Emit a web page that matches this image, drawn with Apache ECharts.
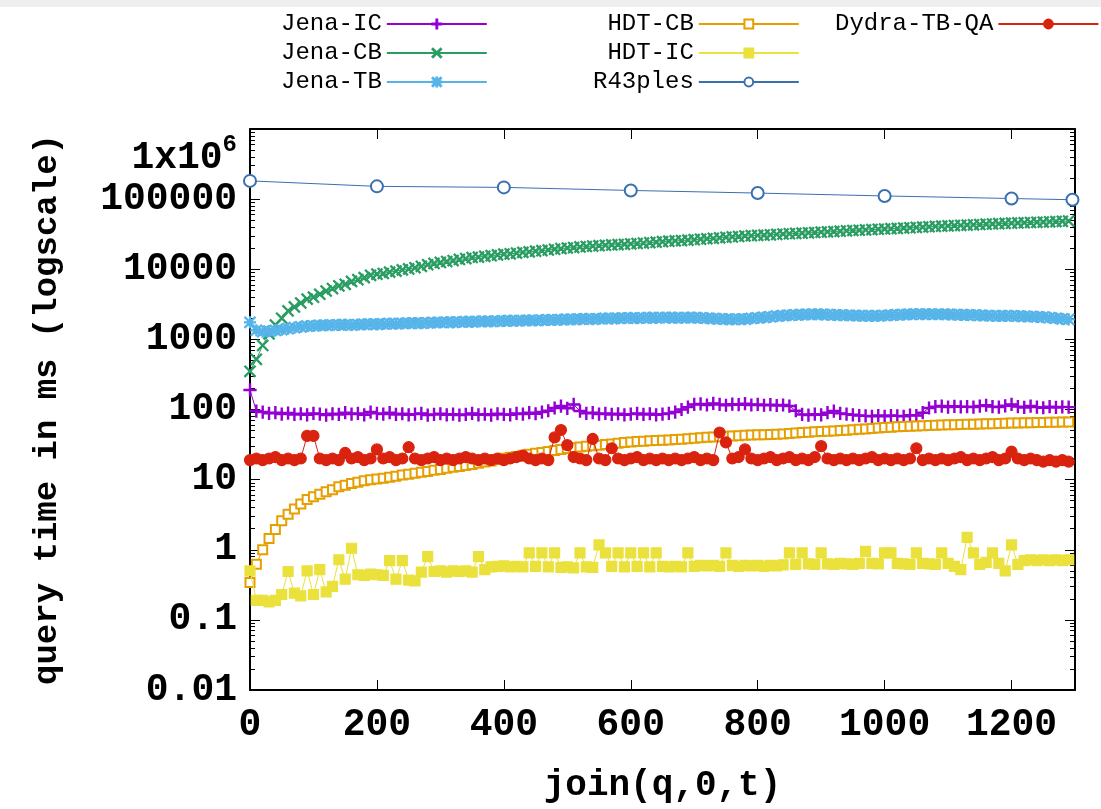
<!DOCTYPE html>
<html>
<head>
<meta charset="utf-8">
<script src="https://cdn.jsdelivr.net/npm/echarts@6/dist/echarts.min.js"></script>
<style>
html,body{margin:0;padding:0;background:#fff;}
#container{width:1101px;height:809px;}
</style>
</head>
<body>
<div id="container"></div>
<script>
// join(q,0,t) sample positions
var joinSteps = [0,10,20,30,40,50,60,70,80,90,100,110,120,130,140,150,160,170,180,190,
    200,210,220,230,240,250,260,270,280,290,300,310,320,330,340,350,360,370,380,390,
    400,410,420,430,440,450,460,470,480,490,500,510,520,530,540,550,560,570,580,590,
    600,610,620,630,640,650,660,670,680,690,700,710,720,730,740,750,760,770,780,790,
    800,810,820,830,840,850,860,870,880,890,900,910,920,930,940,950,960,970,980,990,
    1000,1010,1020,1030,1040,1050,1060,1070,1080,1090,1100,1110,1120,1130,1140,1150,1160,1170,1180,1190,
    1200,1210,1220,1230,1240,1250,1260,1270,1280,1290];

var jenaIC = [190,95,92,88,90,86,89,85,87,84,88,86,83,87,85,90,86,88,84,92,
    88,86,90,85,87,84,86,88,83,85,87,84,86,83,85,88,84,86,83,87,
    85,84,88,86,90,87,92,96,105,112,104,118,95,88,90,86,88,85,87,84,
    86,88,85,87,84,86,88,92,100,108,118,120,116,122,118,115,119,117,121,116,
    118,115,117,114,116,112,96,85,83,86,84,90,95,88,86,84,82,81,80,82,
    80,82,81,80,83,82,90,105,110,112,108,111,109,110,108,112,115,110,108,113,
    118,110,107,112,108,106,110,107,109,108];

var jenaCB = [350,520,820,1200,1600,2000,2550,2900,3300,3750,4000,4400,4900,5300,5800,6100,6700,7100,7600,8200,
    8500,8700,9100,9400,9800,10100,10500,11000,11600,12100,12500,12900,13300,13800,14200,14700,14900,15300,15600,16000,
    16400,16600,17000,17400,17700,18100,18400,18800,19300,19700,20100,20400,20800,21100,21400,21700,22000,22200,22500,22700,
    23000,23300,23600,24000,24300,24700,25100,25400,25600,26000,26400,26800,27200,27600,28000,28500,28900,29300,29800,30100,
    30400,30600,31000,31400,31800,32100,32400,32700,33100,33400,33800,34100,34500,34900,35300,35700,36000,36400,36800,37200,
    37500,37900,38200,38700,39100,39500,39900,40400,40800,41200,41600,42000,42300,42700,43000,43500,43900,44200,44600,45000,
    45400,45700,46000,46400,46700,47100,47500,47900,48300,48800];

var jenaTB = [1750,1350,1290,1310,1340,1380,1420,1470,1510,1550,1560,1580,1590,1600,1610,1620,1600,1630,1640,1650,
    1640,1660,1680,1670,1690,1700,1710,1700,1720,1740,1740,1760,1750,1770,1790,1780,1800,1810,1800,1820,
    1830,1850,1840,1860,1870,1860,1880,1900,1890,1910,1930,1930,1950,1960,1940,1970,1990,1980,2000,2010,
    2020,2000,2030,2040,2020,2050,2040,2040,2030,2050,2040,2030,2000,1980,1960,1940,1930,1950,1940,1990,
    2020,2060,2100,2150,2180,2210,2240,2260,2270,2280,2270,2250,2230,2220,2210,2190,2180,2170,2170,2170,
    2190,2220,2240,2260,2280,2290,2280,2290,2280,2280,2270,2250,2240,2230,2220,2200,2190,2170,2160,2170,
    2170,2150,2130,2120,2100,2080,2040,2000,1960,1930];

var hdtCB = [0.34,0.62,1.0,1.45,1.95,2.6,3.2,3.8,4.5,5.2,5.7,6.2,6.7,7.2,7.9,8.3,8.8,9.2,9.6,10,
    10.2,10.5,10.8,11.2,11.6,11.9,12.3,12.7,13.1,13.6,14,14.5,15,15.4,15.9,16.4,17.1,17.8,18.5,19.3,
    20.2,20.8,21.4,22.2,23,23.8,24.3,25.2,26.1,27,27.9,28.4,29.1,29.8,30.4,31,31.6,32.3,33,33.7,
    34.4,35.1,35.4,35.8,36.2,36.5,36.8,37.2,37.6,38.2,38.8,39.4,40.1,40.6,41,41.5,42,42.4,42.8,43.2,
    43.5,43.8,44,44.3,44.8,45.4,46.1,46.8,47.4,48,48.5,49,49.5,50,50.6,51.3,52.1,52.9,53.7,54.5,
    55.3,56,56.7,57.3,57.8,58.2,58.7,59.2,59.6,60,60.4,60.8,61.1,61.4,61.7,62,62.4,62.8,63.2,63.6,
    64,64.3,64.6,64.9,65.2,65.5,65.8,66,66.3,66.5];

var hdtIC = [0.5,0.19,0.19,0.18,0.19,0.23,0.49,0.24,0.22,0.5,0.23,0.52,0.25,0.3,0.72,0.38,1.05,0.44,0.43,0.45,
    0.44,0.43,0.7,0.38,0.7,0.37,0.36,0.48,0.8,0.49,0.5,0.48,0.5,0.49,0.5,0.48,0.8,0.52,0.57,0.58,
    0.59,0.57,0.58,0.57,0.9,0.58,0.9,0.57,0.9,0.56,0.57,0.55,0.9,0.57,0.56,1.17,0.9,0.58,0.9,0.57,
    0.9,0.58,0.9,0.57,0.9,0.58,0.57,0.58,0.57,0.9,0.58,0.6,0.59,0.6,0.58,0.9,0.6,0.58,0.6,0.59,
    0.6,0.58,0.6,0.59,0.61,0.9,0.62,0.9,0.63,0.62,0.9,0.63,0.62,0.64,0.63,0.62,0.64,0.95,0.64,0.63,
    0.9,0.9,0.64,0.63,0.62,0.9,0.64,0.63,0.62,0.9,0.64,0.58,0.52,1.5,0.9,0.62,0.66,0.9,0.64,0.5,
    1.17,0.62,0.7,0.72,0.7,0.72,0.7,0.72,0.7,0.72];

var dydra = [19,20,19,20,21,19,20,19,20,42,42,20,19,20,19,24,20,21,19,20,
    27,20,21,19,20,29,20,19,20,21,19,20,19,20,21,20,19,20,19,20,
    19,20,21,22,20,19,20,19,40,51,31,21,20,19,38,20,19,28,20,19,
    20,21,19,20,19,20,19,20,19,20,21,19,20,19,47,34,20,21,27,20,
    19,20,21,19,20,21,19,20,19,21,30,20,19,20,19,20,19,20,21,19,
    20,19,20,19,20,28,19,20,19,20,19,20,21,19,20,19,20,21,19,20,
    25,20,19,20,19,18,19,18,19,18];

var r43Steps = [0,200,400,600,800,1000,1200,1296];
var r43ples = [182000,152000,147000,133000,122000,111000,102000,98000];

var yMajor = [0.01,0.1,1,10,100,1000,10000,100000,1000000];
var yMajorLabels = ['0.01','0.1','1','10','100','1000','10000','100000','{b|1x10}{sup|6}'];

var monoFont = '"Liberation Mono", "DejaVu Sans Mono", monospace';

function pairs(xs, ys){
    var out = [];
    for(var i=0;i<ys.length;i++){
        out.push([xs[i], ys[i]]);
    }
    return out;
}

// minor ticks 2..9 in every decade
var yMinor = [];
for(var d=0; d<yMajor.length-1; d++){
    for(var k=2;k<=9;k++){
        yMinor.push(Number((yMajor[d]*k).toPrecision(3)));
    }
}

var plusPath = 'path://M9,0H11V9H20V11H11V20H9V11H0V9H9Z';
var crossPath = 'path://M0,1.4L1.4,0L10,8.6L18.6,0L20,1.4L11.4,10L20,18.6L18.6,20L10,11.4L1.4,20L0,18.6L8.6,10Z';
var starPath = 'path://M9,0H11V9H20V11H11V20H9V11H0V9H9Z M0,1.4L1.4,0L10,8.6L18.6,0L20,1.4L11.4,10L20,18.6L18.6,20L10,11.4L1.4,20L0,18.6L8.6,10Z';

function lineSeries(name, color, data, symbol, size, z){
    return {
        name: name,
        type: 'line',
        data: data,
        symbol: symbol,
        symbolSize: size,
        showAllSymbol: true,
        clip: true,
        z: z,
        lineStyle: {color: color, width: 1},
        itemStyle: {color: color, borderColor: color, borderWidth: 1.2},
        emphasis: {disabled: true}
    };
}

function logAxis(pos, ticks, len, withLine, labelValues){
    return {
        type: 'log',
        logBase: 10,
        position: pos,
        min: 0.01,
        max: 1000000,
        axisLine: {show: withLine, lineStyle: {color: '#000', width: 2}},
        axisTick: {show: ticks != null, inside: true, length: len, customValues: ticks || [], lineStyle: {color: '#000', width: 1}},
        axisLabel: labelValues ? {
            show: true,
            customValues: labelValues,
            showMinLabel: true,
            showMaxLabel: true,
            margin: 13,
            color: '#000',
            fontFamily: monoFont,
            fontWeight: 'bold',
            fontSize: 38,
            formatter: function(v){
                var i = Math.round(Math.log10(v)) + 2;
                return yMajorLabels[i];
            },
            rich: {
                b: {fontFamily: monoFont, fontWeight: 'bold', fontSize: 38, color: '#000', lineHeight: 40, padding: [58,0,0,0]},
                sup: {fontFamily: monoFont, fontWeight: 'bold', fontSize: 24, color: '#000', lineHeight: 24, padding: [32,0,0,0]}
            }
        } : {show: false},
        splitLine: {show: false},
        minorTick: {show: false}
    };
}

var myChart = echarts.init(document.getElementById('container'), null, {renderer: 'canvas'});

var legendText = {fontFamily: monoFont, fontSize: 24, color: '#000', lineHeight: 24};

var option = {
    animation: false,
    backgroundColor: '#fff',
    graphic: [{
        type: 'rect', left: 0, top: 0, z: -10,
        shape: {width: 1101, height: 7},
        style: {fill: '#efefef'}
    }],
    grid: {left: 250, right: 26, top: 129, bottom: 119},
    legend: [
        {
            data: ['Jena-IC','Jena-CB','Jena-TB'],
            orient: 'vertical', left: 276, top: 7, align: 'right',
            itemWidth: 100, itemHeight: 11, itemGap: 5,
            textStyle: legendText
        },
        {
            data: ['HDT-CB','HDT-IC','R43ples'],
            orient: 'vertical', left: 588, top: 7, align: 'right',
            itemWidth: 100, itemHeight: 11, itemGap: 5,
            formatter: function(name){ return name.length < 7 ? ' ' + name : name; },
            textStyle: legendText
        },
        {
            data: ['Dydra-TB-QA'],
            orient: 'vertical', left: 830, top: 7, align: 'right',
            itemWidth: 100, itemHeight: 11, itemGap: 5,
            textStyle: legendText
        }
    ],
    xAxis: [
        {
            type: 'value', position: 'bottom', min: 0, max: 1300, interval: 200,
            name: 'join(q,0,t)', nameLocation: 'middle', nameGap: 78,
            nameTextStyle: {fontFamily: monoFont, fontWeight: 'bold', fontSize: 36, color: '#000'},
            axisLine: {show: true, lineStyle: {color: '#000', width: 2}},
            axisTick: {show: true, inside: true, length: 10, lineStyle: {color: '#000'}},
            axisLabel: {
                color: '#000', fontFamily: monoFont, fontWeight: 'bold', fontSize: 38, margin: 16,
                showMaxLabel: false,
                formatter: function(v){ return String(v); }
            },
            splitLine: {show: false}
        },
        {
            type: 'value', position: 'top', min: 0, max: 1300, interval: 200,
            axisLine: {show: true, lineStyle: {color: '#000', width: 2}},
            axisTick: {show: true, inside: true, length: 10, lineStyle: {color: '#000'}},
            axisLabel: {show: false},
            splitLine: {show: false}
        }
    ],
    yAxis: [
        (function(){
            var a = logAxis('left', yMajor, 10, true, yMajor.slice(0, 8));
            a.name = 'query time in ms (logscale)';
            a.nameLocation = 'middle';
            a.nameGap = 186;
            a.nameTextStyle = {fontFamily: monoFont, fontWeight: 'bold', fontSize: 34, color: '#000'};
            return a;
        })(),
        logAxis('left', yMinor, 5, false, null),
        logAxis('right', yMajor, 10, true, null),
        logAxis('right', yMinor, 5, false, null),
        // top label 1x10^6 sits on its own axis so it is not dropped as overlapping
        logAxis('left', null, 0, false, yMajor.slice(8))
    ],
    series: [
        lineSeries('Jena-IC', '#9400d3', pairs(joinSteps, jenaIC), plusPath, 12, 2),
        lineSeries('Jena-CB', '#2a9d63', pairs(joinSteps, jenaCB), crossPath, 11, 3),
        lineSeries('Jena-TB', '#56b4e9', pairs(joinSteps, jenaTB), starPath, 11, 4),
        lineSeries('HDT-CB', '#e69f00', pairs(joinSteps, hdtCB), 'emptyRect', 9, 5),
        lineSeries('HDT-IC', '#ebe13c', pairs(joinSteps, hdtIC), 'rect', 10, 6),
        lineSeries('R43ples', '#3a6fb0', pairs(r43Steps, r43ples), 'emptyCircle', 12, 7),
        lineSeries('Dydra-TB-QA', '#d9230f', pairs(joinSteps, dydra), 'circle', 11, 8)
    ]
};

// 为echarts对象加载数据
myChart.setOption(option);
</script>
</body>
</html>
